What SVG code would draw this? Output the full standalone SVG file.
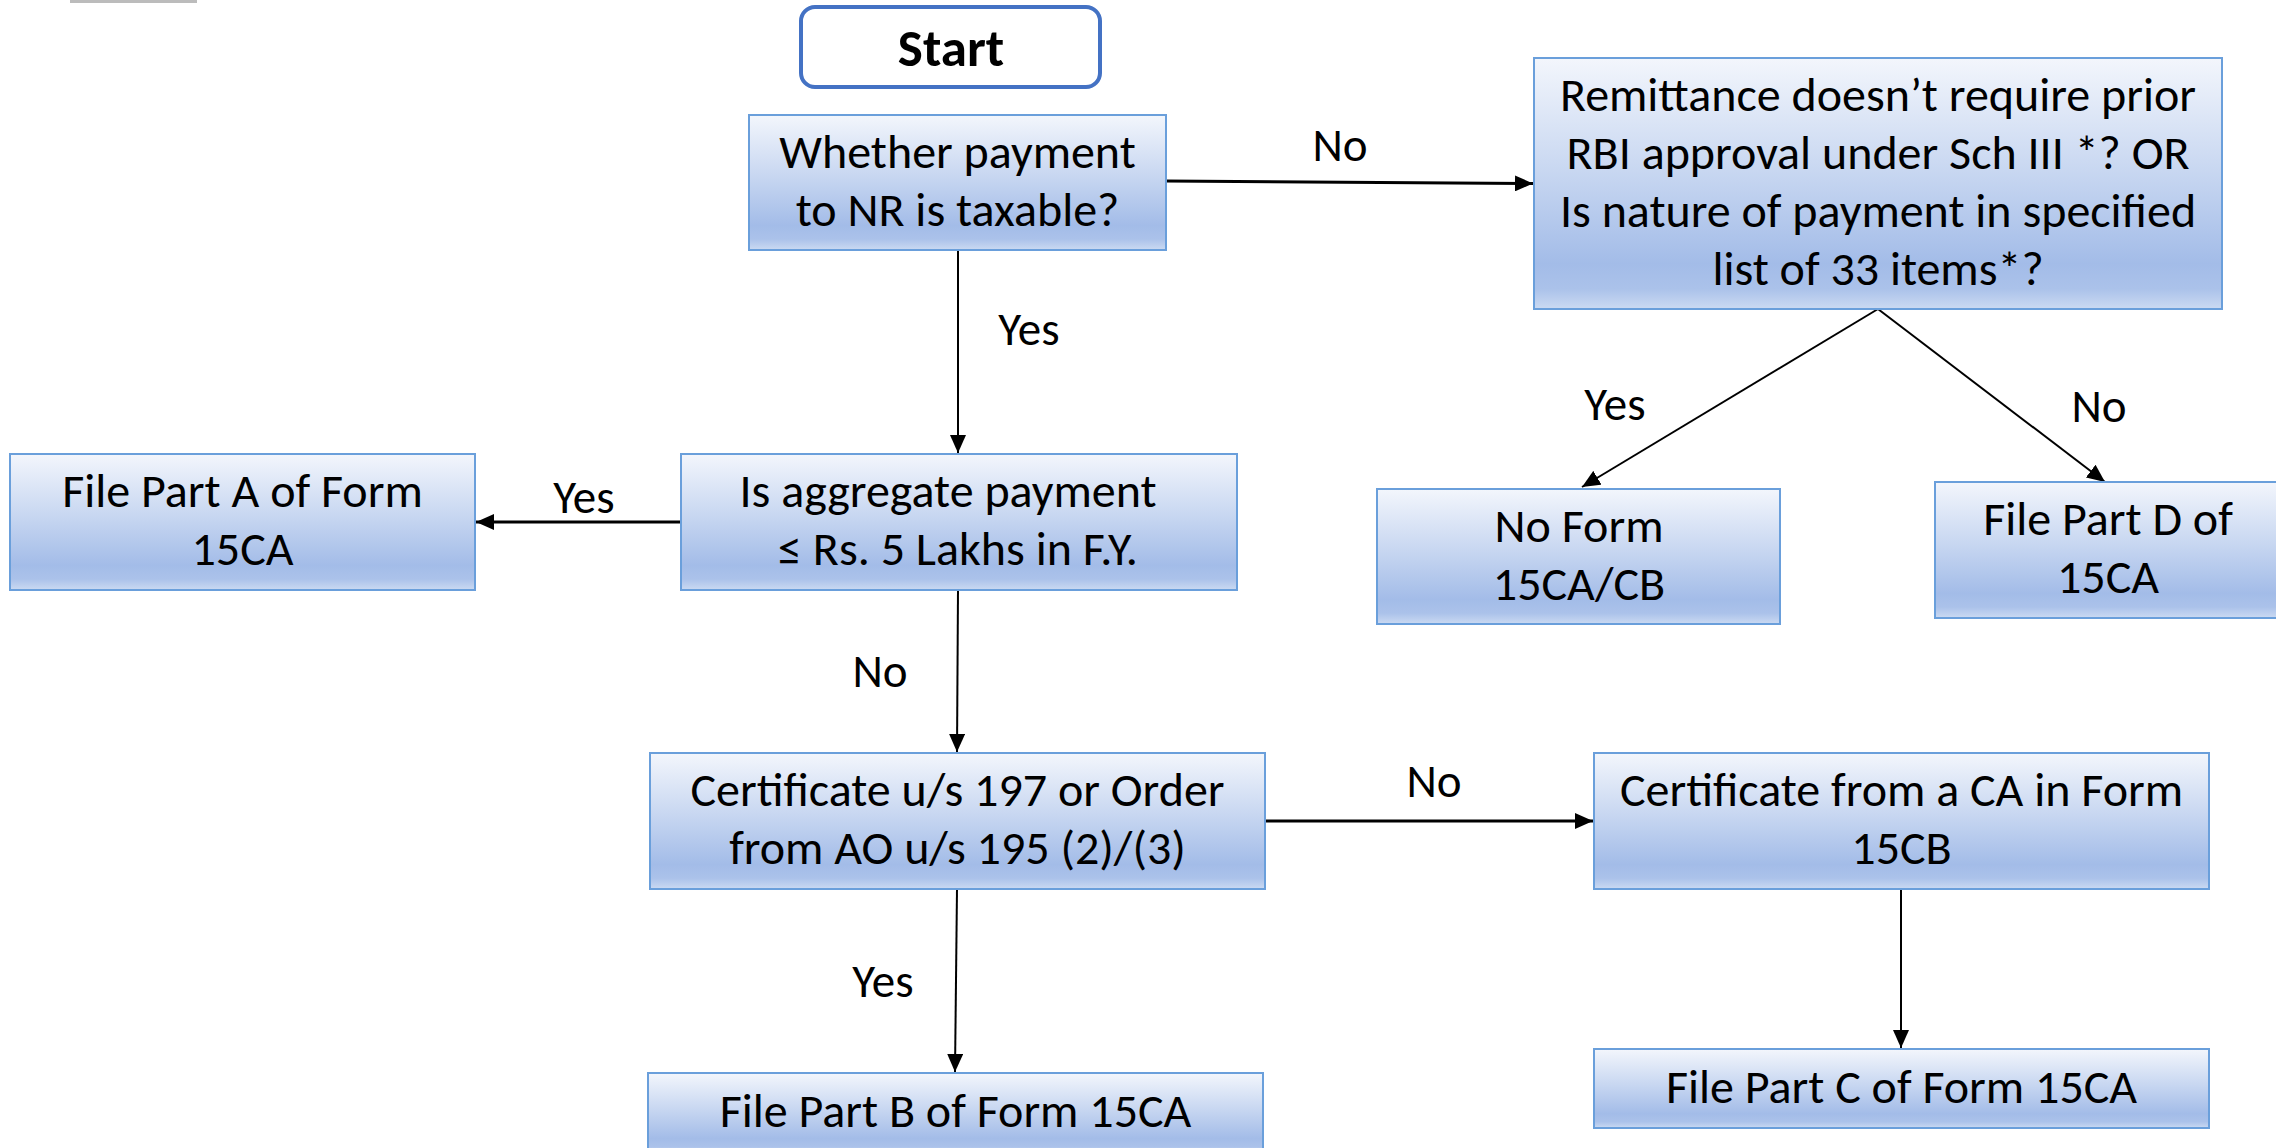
<svg xmlns="http://www.w3.org/2000/svg" width="2276" height="1148" viewBox="0 0 2276 1148">
<style>
.box{fill:url(#g);stroke:#6A9FDB;stroke-width:2}
.t{font-family:Carlito,Calibri,Lato,"Liberation Sans",sans-serif;font-size:48px;fill:#000;text-anchor:middle}
.lbl{font-family:Carlito,Calibri,Lato,"Liberation Sans",sans-serif;font-size:47px;fill:#000;text-anchor:middle}
.c{fill:none;stroke:#000;stroke-width:2}
.c3{fill:none;stroke:#000;stroke-width:3}
</style>
<defs>
<linearGradient id="g" x1="0" y1="0" x2="0" y2="1">
<stop offset="0" stop-color="#F3F6FC"/>
<stop offset="0.45" stop-color="#C8D7F1"/>
<stop offset="0.82" stop-color="#A3BCE8"/>
<stop offset="0.92" stop-color="#ABC2EA"/>
<stop offset="1" stop-color="#CBDAF2"/>
</linearGradient>
<marker id="a" markerUnits="userSpaceOnUse" markerWidth="19" markerHeight="16" refX="18" refY="8" orient="auto">
<path d="M0,0 L18,8 L0,16 z" fill="#000"/>
</marker>
</defs>
<rect x="70" y="0" width="127" height="3" fill="#A0A0A0" opacity="0.7"/>
<g id="connectors">
<path class="c3" d="M1166,181 L1533,183.5" marker-end="url(#a)"/>
<path class="c" d="M958,250 L958,453" marker-end="url(#a)"/>
<path class="c3" d="M681,522 L476,522" marker-end="url(#a)"/>
<path class="c" d="M958,589 L957,752" marker-end="url(#a)"/>
<path class="c3" d="M1265,821 L1593,821" marker-end="url(#a)"/>
<path class="c" d="M957,889 L955,1072" marker-end="url(#a)"/>
<path class="c" d="M1901,889 L1901,1048" marker-end="url(#a)"/>
<path class="c" d="M1878,309 L1582,487" marker-end="url(#a)"/>
<path class="c" d="M1878,309 L2105,482" marker-end="url(#a)"/>
<text class="lbl" x="1340" y="161">No</text>
<text class="lbl" x="1029" y="345">Yes</text>
<text class="lbl" x="584" y="513">Yes</text>
<text class="lbl" x="880" y="687">No</text>
<text class="lbl" x="1434" y="797">No</text>
<text class="lbl" x="883" y="997">Yes</text>
<text class="lbl" x="1615" y="420">Yes</text>
<text class="lbl" x="2099" y="422">No</text>
</g>
<g id="start">
<rect x="801" y="7" width="299" height="80" rx="14" fill="#fff" stroke="#4472C4" stroke-width="4"/>
<text class="t" x="951" y="66" style="font-size:53px;font-weight:bold">Start</text>
</g>
<g id="taxable">
<rect class="box" x="749" y="115" width="417" height="135"/>
<text class="t" x="957.5" y="168">Whether payment</text>
<text class="t" x="957.5" y="226">to NR is taxable?</text>
</g>
<g id="remittance">
<rect class="box" x="1534" y="58" width="688" height="251"/>
<text class="t" x="1878" y="111">Remittance doesn’t require prior</text>
<text class="t" x="1878" y="169">RBI approval under Sch III *? OR</text>
<text class="t" x="1878" y="227">Is nature of payment in specified</text>
<text class="t" x="1878" y="285">list of 33 items*?</text>
</g>
<g id="partA">
<rect class="box" x="10" y="454" width="465" height="136"/>
<text class="t" x="242.5" y="507">File Part A of Form</text>
<text class="t" x="242.5" y="565">15CA</text>
</g>
<g id="aggregate">
<rect class="box" x="681" y="454" width="556" height="136"/>
<text class="t" x="948" y="507">Is aggregate payment</text>
<text class="t" x="958" y="565">≤ Rs. 5 Lakhs in F.Y.</text>
</g>
<g id="noform">
<rect class="box" x="1377" y="489" width="403" height="135"/>
<text class="t" x="1579" y="542">No Form</text>
<text class="t" x="1579" y="600">15CA/CB</text>
</g>
<g id="partD">
<rect class="box" x="1935" y="482" width="402" height="136"/>
<text class="t" x="2108" y="535">File Part D of</text>
<text class="t" x="2108" y="593">15CA</text>
</g>
<g id="cert197">
<rect class="box" x="650" y="753" width="615" height="136"/>
<text class="t" x="957.5" y="806">Certificate u/s 197 or Order</text>
<text class="t" x="957.5" y="864">from AO u/s 195 (2)/(3)</text>
</g>
<g id="certCA">
<rect class="box" x="1594" y="753" width="615" height="136"/>
<text class="t" x="1901.5" y="806">Certificate from a CA in Form</text>
<text class="t" x="1901.5" y="864">15CB</text>
</g>
<g id="partB">
<rect class="box" x="648" y="1073" width="615" height="80"/>
<text class="t" x="955.5" y="1127">File Part B of Form 15CA</text>
</g>
<g id="partC">
<rect class="box" x="1594" y="1049" width="615" height="79"/>
<text class="t" x="1901.5" y="1103">File Part C of Form 15CA</text>
</g>
</svg>
